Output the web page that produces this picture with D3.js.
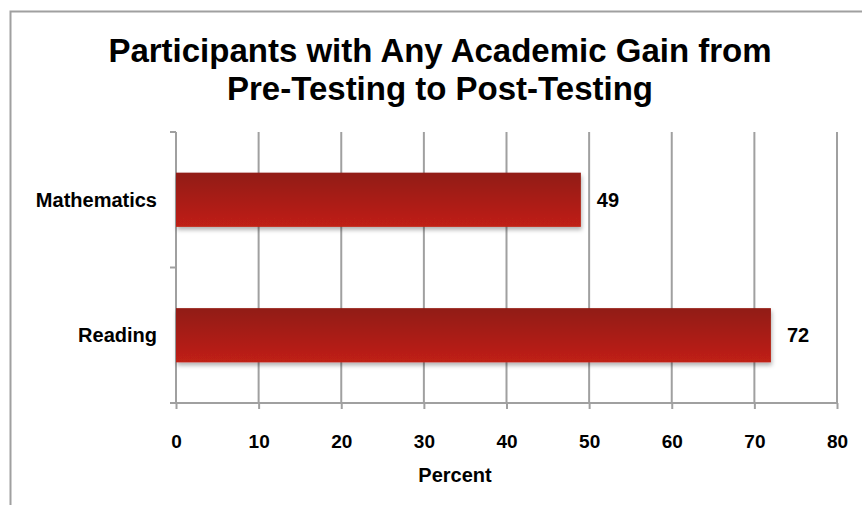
<!DOCTYPE html>
<html>
<head>
<meta charset="utf-8">
<script src="https://cdn.jsdelivr.net/npm/d3@7"></script>
<style>
  body { margin: 0; background: #fff; }
  text { font-family: "Liberation Sans", Arial, sans-serif; font-weight: bold; fill: #000; }
</style>
</head>
<body>
<script>
var subjects = ["Mathematics", "Reading"];
var percents = [49, 72];
var xTicks = [0, 10, 20, 30, 40, 50, 60, 70, 80];
var titleLines = ["Participants with Any Academic Gain from", "Pre-Testing to Post-Testing"];

var W = 862, H = 505;
var margin = {top: 132, right: 25, bottom: 102, left: 176},
    width = W - margin.left - margin.right,
    height = H - margin.top - margin.bottom;

var svg = d3.select("body").append("svg")
    .attr("width", W)
    .attr("height", H);

// outer frame (left + top)
svg.append("path")
    .attr("d", "M10.5," + H + "V11.5H" + W)
    .attr("fill", "none")
    .attr("stroke", "#a0a0a0")
    .attr("stroke-width", 2);

var defs = svg.append("defs");
var grad = defs.append("linearGradient")
    .attr("id", "barGrad")
    .attr("x1", 0).attr("y1", 0).attr("x2", 0).attr("y2", 1);
grad.append("stop").attr("offset", "0%").attr("stop-color", "#911a12");
grad.append("stop").attr("offset", "100%").attr("stop-color", "#c02012");

var shadow = defs.append("filter").attr("id", "shadow")
    .attr("x", "-5%").attr("y", "-20%").attr("width", "110%").attr("height", "150%");
shadow.append("feDropShadow")
    .attr("dx", 1).attr("dy", 3).attr("stdDeviation", 2)
    .attr("flood-color", "#000").attr("flood-opacity", 0.3);

svg.selectAll(".title")
    .data(titleLines)
    .enter().append("text")
    .attr("class", "title")
    .attr("x", 440)
    .attr("y", function(d, i) { return 62 + i * 38; })
    .attr("text-anchor", "middle")
    .style("font-size", "33px")
    .text(function(d) { return d; });

var g = svg.append("g")
    .attr("transform", "translate(" + margin.left + "," + margin.top + ")");

var x = d3.scaleLinear()
    .domain([0, 80])
    .range([0, width]);

var y = d3.scaleBand()
    .domain(subjects)
    .range([0, height])
    .paddingInner(0.6)
    .paddingOuter(0.3);

// gridlines
g.selectAll(".grid")
    .data(xTicks.slice(1))
    .enter().append("line")
    .attr("class", "grid")
    .attr("x1", function(d) { return x(d); })
    .attr("x2", function(d) { return x(d); })
    .attr("y1", 0)
    .attr("y2", height)
    .attr("stroke", "#a0a0a0")
    .attr("stroke-width", 2);

// x axis
var xAxis = g.append("g")
    .attr("class", "x axis")
    .attr("transform", "translate(0," + height + ")")
    .call(d3.axisBottom(x).tickValues(xTicks).tickSize(6).tickPadding(26));
xAxis.select(".domain").attr("stroke", "#a0a0a0").attr("stroke-width", 2)
    .attr("d", "M0,0H" + width);
xAxis.selectAll(".tick line").attr("stroke", "#a0a0a0").attr("stroke-width", 2);
xAxis.selectAll(".tick text").style("font-size", "19px").attr("fill", "#000");

// y axis with ticks at band edges
var yEdges = [0, height / 2, height];
g.append("line")
    .attr("x1", 0).attr("x2", 0).attr("y1", 0).attr("y2", height)
    .attr("stroke", "#a0a0a0").attr("stroke-width", 2);
g.selectAll(".ytick")
    .data(yEdges)
    .enter().append("line")
    .attr("class", "ytick")
    .attr("x1", -6).attr("x2", 0)
    .attr("y1", function(d) { return d; })
    .attr("y2", function(d) { return d; })
    .attr("stroke", "#a0a0a0").attr("stroke-width", 2);

g.selectAll(".ylabel")
    .data(subjects)
    .enter().append("text")
    .attr("class", "ylabel")
    .attr("x", -19)
    .attr("y", function(d) { return y(d) + y.bandwidth() / 2; })
    .attr("dy", "0.35em")
    .attr("text-anchor", "end")
    .style("font-size", "20px")
    .text(function(d) { return d; });

// bars
g.selectAll(".bar")
    .data(subjects)
    .enter().append("rect")
    .attr("class", "bar")
    .attr("x", x(0))
    .attr("y", function(d) { return y(d); })
    .attr("width", function(d, i) { return x(percents[i]) - x(0); })
    .attr("height", y.bandwidth())
    .attr("fill", "url(#barGrad)")
    .attr("filter", "url(#shadow)");

g.selectAll(".value")
    .data(subjects)
    .enter().append("text")
    .attr("class", "value")
    .attr("x", function(d, i) { return x(percents[i]) + 16; })
    .attr("y", function(d) { return y(d) + y.bandwidth() / 2; })
    .attr("dy", "0.35em")
    .style("font-size", "20px")
    .text(function(d, i) { return percents[i]; });

svg.append("text")
    .attr("x", 455)
    .attr("y", 482)
    .attr("text-anchor", "middle")
    .style("font-size", "20px")
    .text("Percent");
</script>
</body>
</html>
